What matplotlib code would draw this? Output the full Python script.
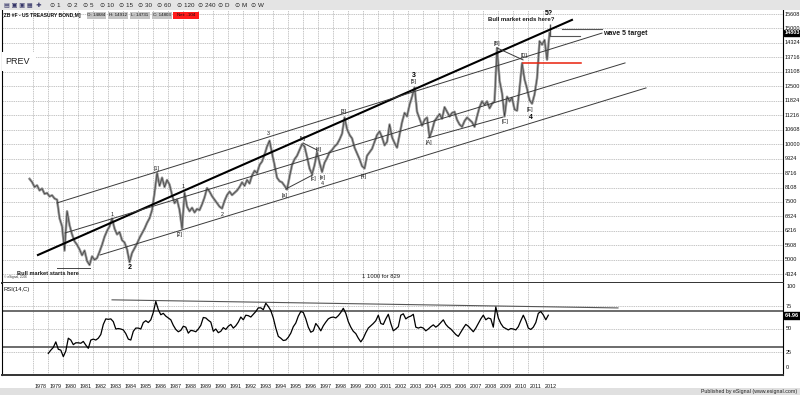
import matplotlib
matplotlib.use('Agg')
import matplotlib.pyplot as plt
import numpy as np
from matplotlib.transforms import blended_transform_factory as btf
from matplotlib.patches import Rectangle

plt.rcParams['font.family'] = ['Liberation Sans', 'DejaVu Sans']

# ---------------- data ----------------
# bimonthly closes, first point 1977.75, step 1/6 year
closes_1970s = [85.0, 83.6,
                81.5, 82.2, 80.0, 80.8, 78.5, 78.9,
                77.4, 77.9, 76.5, 76.0, 68.0, 64.5]
closes_1980s = [54.0, 71.0, 65.0, 61.0, 58.0, 56.5,
                54.5, 52.0, 54.0, 49.5, 47.8, 51.5,
                50.0, 50.8, 53.5, 56.5, 60.0, 62.5,
                64.5, 67.8, 63.5, 61.0, 62.0, 58.5,
                57.5, 54.5, 49.0, 53.0, 55.0, 57.0,
                59.5, 61.5, 63.5, 66.0, 68.0, 71.5,
                79.0, 87.5, 82.0, 85.5, 81.5, 84.5,
                82.5, 78.0, 74.5, 76.0, 71.5, 63.5,
                79.0, 73.0, 71.0, 72.5, 70.5, 72.0,
                71.5, 74.0, 77.0, 81.0, 79.5, 77.5]
closes_1990s = [76.0, 74.5, 73.0, 72.2, 75.5, 78.0,
                79.5, 78.0, 79.0, 80.0, 81.5, 83.5,
                82.0, 84.5, 83.0, 86.5, 88.5, 87.5,
                91.0, 92.5, 95.5, 99.0, 101.5, 96.0,
                91.0, 85.5, 84.0, 83.5, 82.0, 80.4,
                86.0, 91.0, 93.5, 95.0, 97.5, 100.0,
                99.0, 94.5, 89.5, 87.0, 91.0, 96.5,
                92.0, 88.0, 92.0, 94.0, 96.5, 97.5,
                99.0, 100.0, 102.0, 104.5, 111.5, 106.5,
                104.0, 102.5, 98.5, 96.0, 93.5, 90.5]
closes_2000s = [89.5, 95.0, 96.5, 98.0, 101.0, 104.0,
                105.5, 103.0, 99.5, 101.0, 108.5, 103.0,
                100.5, 98.5, 104.0, 109.5, 113.5, 112.0,
                117.0, 120.5, 124.5, 114.0, 111.0, 108.0,
                110.5, 111.5, 103.0, 106.0, 110.0, 111.5,
                113.0, 111.0, 116.0, 114.0, 112.0, 113.5,
                114.0, 110.5, 108.5, 107.5, 110.0, 111.5,
                110.5, 109.5, 107.5, 112.0, 116.0, 118.5,
                117.0, 118.5, 115.5, 117.5, 118.5, 141.5,
                127.5, 122.0, 112.0, 120.5, 118.5, 120.0]
closes_2010s = [115.0, 114.5, 124.0, 135.0, 128.0, 124.0,
                119.0, 117.5, 121.5, 128.5, 144.5, 143.0,
                145.0, 136.5, 148.1]
last_bar_high = 151.9
last_bar_low = 146.6
price_start = 1977.75

# bimonthly RSI(14), first point 1979.0
rsi_1979 = [23.5, 27, 30, 36, 28, 27]
rsi_1980s = [20, 26, 40, 38, 33, 35,
             35, 34.5, 36.5, 32.5, 29, 38,
             39, 38, 40, 44, 55, 61,
             60.5, 61, 58, 50, 50.5, 50,
             49, 45, 39, 38, 47.5, 51,
             51, 50, 57, 59, 57, 60,
             68, 80, 71, 65.5, 67, 64,
             62, 60, 54, 49.5, 47, 48.5,
             53, 52, 45.5, 48.5, 48, 47,
             50, 54, 62.5, 62, 59.5, 57.5]
rsi_1990s = [47.5, 50, 46, 47.5, 51.5, 49.5,
             53, 55, 51, 53.5, 57.5, 63,
             60, 65, 64.5, 63, 66, 69,
             73, 73, 71, 78, 74.5, 70,
             62, 51, 42, 40, 37.5, 38,
             41, 45.5, 52.5, 56.5, 64, 69,
             68, 61, 52, 46.5, 48, 56,
             52.5, 48, 53.5, 57.5, 61, 62.5,
             63, 62, 64.5, 68, 72.5, 67,
             58, 52, 47.5, 45, 40, 36]
rsi_2000s = [40, 46, 51, 53.5, 56, 59,
             65, 56, 55, 61, 66, 56,
             48, 50, 52.5, 65, 66.5, 61,
             63, 64, 66, 52, 51, 52,
             51, 48, 50, 52.5, 54.5, 52,
             54, 57, 60, 55, 52, 50,
             47, 44, 42, 46.5, 51, 55,
             53, 50, 47, 51, 56, 61,
             65, 60, 62, 61, 52, 74,
             62, 56, 52, 50.5, 49, 50.5]
rsi_2010s = [50, 49, 52.5, 59, 65, 59,
             51, 49.5, 52, 57, 67, 69,
             65.3, 60, 65]
rsi_start = 1979.0

years = list(range(1978, 2013))
price_ticks = [43.75, 50.0, 56.25, 62.5, 68.75, 75.0, 81.25, 87.5, 93.75, 100.0,
               106.25, 112.5, 118.75, 125.0, 131.25, 137.5, 143.75, 150.0, 156.25]
rsi_levels_dashed = [75, 50, 25]
rsi_levels_solid = [70, 30]

# trend / channel lines (year, price)
thick_line = [(1978.31, 52.1), (2013.91, 153.7)]
channel_lines = [
    [(1979.58, 74.6), (2015.91, 148.0)],
    [(1980.11, 61.6), (2017.45, 135.1)],
    [(1982.45, 52.1), (2018.85, 124.3)],
    [(2004.31, 102.7), (2009.31, 111.7)],
    [(2008.91, 141.6), (2010.65, 136.4)],
    [(1994.83, 80.6), (1996.63, 86.7)],
    [(1995.98, 100.5), (1996.91, 97.5)],
]
red_line = [(2010.65, 135.1), (2014.51, 135.1)]
target_lines = [[(2013.26, 149.8), (2015.91, 149.8)],
                [(2012.46, 146.7), (2014.45, 146.7)]]
start_pointer = [(1979.6, 46.3), (1981.78, 46.3)]
rsi_trend = [(1983.25, 81.7), (2016.98, 72.9)]

small_labels = [("1", 1983.25, 69.8), ("[1]", 1986.25, 89.5), ("[2]", 1987.78, 61.0),
                ("1", 1988.01, 81.5), ("2", 1990.58, 69.8), ("3", 1993.65, 104.8),
                ("[a]", 1994.78, 77.6), ("[b]", 1995.98, 102.4), ("[c]", 1996.65, 85.2),
                ("[d]", 1997.05, 97.7), ("[e]", 1997.29, 85.6), ("4", 1997.29, 83.2),
                ("[3]", 1998.71, 114.3), ("[4]", 2000.04, 86.2), ("[5]", 2003.38, 126.9),
                ("[A]", 2004.40, 100.5), ("[B]", 2008.89, 143.5), ("[C]", 2009.45, 109.6),
                ("[D]", 2010.71, 138.5), ("[E]", 2011.11, 114.8)]
big_labels = [("2", 1984.45, 46.9), ("3", 2003.38, 129.5), ("4", 2011.15, 111.5),
              ("5?", 2012.38, 156.3)]

# ---------------- figure ----------------
W, H = 800, 395
fig = plt.figure(figsize=(8, 3.95), dpi=100)
fig.patch.set_facecolor('white')

def fx(px):
    return px / W

def fy(py):
    return 1 - py / H

ax = fig.add_axes([fx(2), fy(283), fx(781), (283 - 10) / H])
axr = fig.add_axes([fx(2), fy(375), fx(781), (375 - 283) / H])

xlim = (1975.913, 2027.98)
for a in (ax, axr):
    a.set_xlim(*xlim)
    a.set_xticks([])
    a.set_yticks([])
    for s in a.spines.values():
        s.set_color('black')
        s.set_linewidth(0.8)
    a.spines['top'].set_visible(False)
    a.spines['bottom'].set_linewidth(1.4)
    a.spines['bottom'].set_color('#333333')
ax.set_ylim(39.99, 157.98)
axr.set_ylim(0, 100)

grid_kw = dict(color='#b0b0b0', lw=0.5, dashes=(2, 1.2), zorder=1)
for a in (ax, axr):
    for yr in years:
        a.axvline(yr, **grid_kw)
for v in price_ticks:
    ax.axhline(v, **grid_kw)
for v in rsi_levels_dashed:
    axr.axhline(v, **grid_kw)
for v in rsi_levels_solid:
    axr.axhline(v, color='#606060', lw=1.3, zorder=2)

# price series
closes = np.array(closes_1970s + closes_1980s + closes_1990s + closes_2000s + closes_2010s)
t = price_start + np.arange(len(closes)) / 6.0
ax.plot(t, closes, color='#959595', lw=1.8, zorder=4)
ax.plot(t, closes, color='#333333', lw=0.4, zorder=5)
ax.vlines(t[-1], last_bar_low, last_bar_high, color='#555555', lw=1.0, zorder=5)

# lines
ax.plot(*zip(*thick_line), color='black', lw=1.5, zorder=6)
for ln in channel_lines:
    ax.plot(*zip(*ln), color='#3a3a3a', lw=0.7, zorder=6)
ax.plot(*zip(*red_line), color='#e8200c', lw=1.1, zorder=6)
for ln in target_lines:
    ax.plot(*zip(*ln), color='#555555', lw=0.8, zorder=6)
ax.plot(*zip(*start_pointer), color='#444444', lw=0.7, zorder=6)

for txt, xx, yy in small_labels:
    ax.text(xx, yy, txt, fontsize=3.9, ha='center', va='center', color='#1a1a1a', zorder=7)
for txt, xx, yy in big_labels:
    ax.text(xx, yy, txt, fontsize=5, ha='center', va='center', color='black',
            fontweight='bold', zorder=7)

ax.text(2010.55, 153.7, "Bull market ends here?", fontsize=4.3, ha='center', va='center',
        fontweight='bold', color='#1a1a1a', zorder=7)
ax.text(2015.98, 148.0, "wave 5 target", fontsize=5, ha='left', va='center',
        fontweight='bold', color='#1a1a1a', zorder=7)
ax.text(1978.98, 44.1, "Bull market starts here", fontsize=4.1, ha='center', va='center',
        fontweight='bold', color='#1a1a1a', zorder=7)
ax.text(0.461, 42.6, "1 1000 for 829", fontsize=4.2, ha='left', va='center',
        transform=btf(ax.transAxes, ax.transData), color='#1a1a1a')
ax.text(0.003, 42.6, "\u00a9 eSignal, 2006", fontsize=2.3, ha='left', va='center',
        transform=btf(ax.transAxes, ax.transData), color='#333333')

# PREV box
ax.add_patch(Rectangle((0, 0.777), 0.043, 0.07, transform=ax.transAxes, fc='white',
                       ec='none', zorder=7))
ax.text(0.004, 0.811, "PREV", fontsize=6.5, ha='left', va='center', transform=ax.transAxes,
        color='#222222', zorder=8)

# right price labels
tr = btf(ax.transAxes, ax.transData)
for v in price_ticks:
    whole = int(v)
    frac = int(round((v - whole) * 32))
    ax.text(1.002, v, f"{whole}{frac:02d}", fontsize=4, ha='left', va='center',
            transform=tr, clip_on=False, color='#111111')
last_close = closes[-1]
ax.text(1.002, last_close, "14803", fontsize=4, ha='left', va='center', transform=tr,
        clip_on=False, color='white', fontweight='bold',
        bbox=dict(boxstyle='square,pad=0.15', fc='black', ec='black'))

# RSI
rsi = np.array(rsi_1979 + rsi_1980s + rsi_1990s + rsi_2000s + rsi_2010s)
tr_r = rsi_start + np.arange(len(rsi)) / 6.0
axr.plot(tr_r, rsi, color='black', lw=0.9, zorder=5)
axr.plot(*zip(*rsi_trend), color='#555555', lw=0.8, zorder=4)
axr.text(0.002, 0.93, "RSI(14,C)", fontsize=4.2, ha='left', va='center',
         transform=axr.transAxes, color='#111111')
trr = btf(axr.transAxes, axr.transData)
for v, lab, va in [(100, "100", 'top'), (75, "75", 'center'), (50, "50", 'center'),
                   (25, "25", 'center'), (0, "0", 'bottom')]:
    axr.text(1.004, v + (-1 if v == 100 else (5 if v == 0 else 0)), lab, fontsize=4,
             ha='left', va=va, transform=trr, clip_on=False, color='#111111')
axr.text(1.002, rsi[-1], "64.96", fontsize=4, ha='left', va='center', transform=trr,
         clip_on=False, color='white', fontweight='bold',
         bbox=dict(boxstyle='square,pad=0.15', fc='black', ec='black'))

# year labels
trx = btf(axr.transData, axr.transAxes)
for yr in years:
    axr.text(yr + 0.07, -0.12, str(yr), fontsize=3.9, ha='left', va='center',
             transform=trx, clip_on=False, color='#111111')

# top toolbar + header
fig.patches.append(Rectangle((0, fy(10)), 1, 10 / H, transform=fig.transFigure,
                             fc='#e4e4e4', ec='none', zorder=0))
fig.text(fx(4), fy(5.5), "\u25a4 \u25a3 \u25a3 \u25a6  \u271a", fontsize=4.5, va='center',
         ha='left', color='#333366')
for lab, xpx in [("1", 50), ("2", 67), ("5", 83), ("10", 100), ("15", 119), ("30", 138),
                 ("60", 157), ("120", 177), ("240", 198), ("D", 218), ("M", 235), ("W", 251)]:
    fig.text(fx(xpx), fy(5.5), "\u2299 " + lab, fontsize=4.5, va='center', ha='left',
             color='#222222')
fig.text(fx(2), fy(15), "[ZB #F - US TREASURY BOND,M]", fontsize=3.6, fontweight='bold',
         va='center', ha='left', color='#111111')
for lab, x0, w, col in [("O: 14884", 87, 19, '#c4c4c4'), ("H: 14912", 108, 20, '#c4c4c4'),
                        ("L: 14731", 130, 20, '#c4c4c4'), ("C: 14803", 152, 20, '#c4c4c4'),
                        ("Net: -104", 173, 26, '#ff1a1a')]:
    fig.patches.append(Rectangle((fx(x0), fy(18.5)), fx(w), 7 / H, transform=fig.transFigure,
                                 fc=col, ec='none', zorder=1))
    fig.text(fx(x0 + w / 2), fy(15), lab, fontsize=3.2, va='center', ha='center',
             color='#111111', zorder=2)

# bottom strip
fig.patches.append(Rectangle((0, 0), 1, 7 / H, transform=fig.transFigure,
                             fc='#e0e0e0', ec='none', zorder=0))
fig.text(fx(797), fy(392), "Published by eSignal (www.esignal.com)", fontsize=3.8,
         va='center', ha='right', color='#222222')

fig.savefig('out.png', dpi=100)
